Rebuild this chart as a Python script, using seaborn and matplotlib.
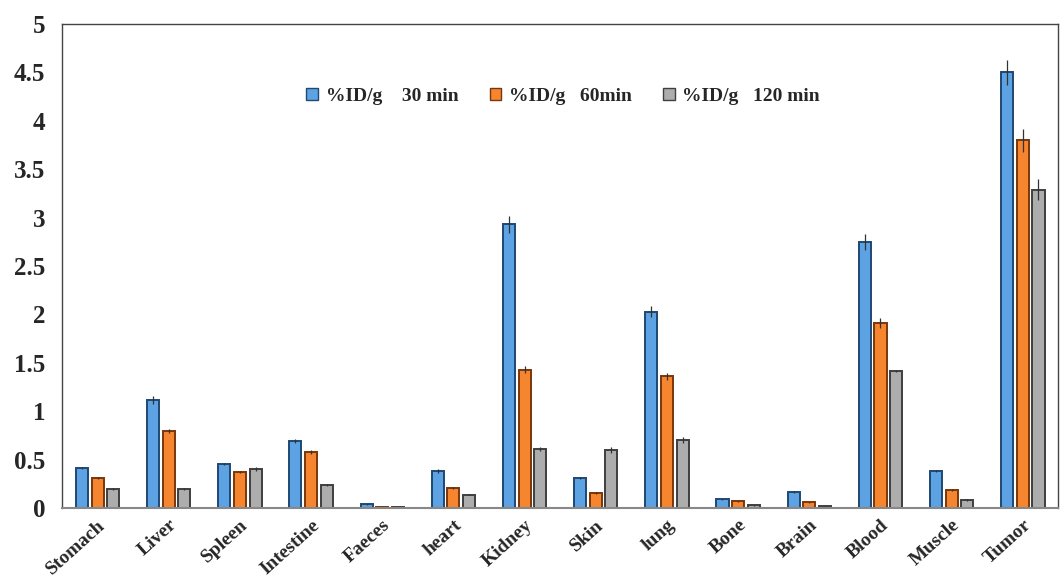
"""Biodistribution bar chart (%ID/g at 30, 60 and 120 min)."""

import matplotlib

matplotlib.use("Agg")
import matplotlib.pyplot as plt
import pandas as pd
import seaborn as sns

ORGANS = [
    "Stomach", "Liver", "Spleen", "Intestine", "Faeces", "heart", "Kidney",
    "Skin", "lung", "Bone", "Brain", "Blood", "Muscle", "Tumor",
]
SERIES = ["%ID/g    30 min", "%ID/g   60min", "%ID/g   120 min"]

VAL_30 = [0.41, 1.12, 0.46, 0.69, 0.04, 0.38, 2.93, 0.31, 2.03, 0.09, 0.17, 2.75, 0.38, 4.50]
VAL_60 = [0.31, 0.80, 0.37, 0.58, 0.015, 0.21, 1.43, 0.16, 1.36, 0.07, 0.06, 1.91, 0.19, 3.80]
VAL_120 = [0.20, 0.20, 0.40, 0.24, 0.01, 0.14, 0.61, 0.60, 0.70, 0.03, 0.02, 1.42, 0.08, 3.29]

ERR_30 = [0.01, 0.04, 0.01, 0.02, 0.005, 0.02, 0.09, 0.01, 0.06, 0.005, 0.01, 0.08, 0.01, 0.13]
ERR_60 = [0.01, 0.02, 0.01, 0.02, 0.005, 0.01, 0.04, 0.01, 0.04, 0.005, 0.005, 0.05, 0.01, 0.12]
ERR_120 = [0.01, 0.01, 0.02, 0.01, 0.005, 0.01, 0.02, 0.03, 0.03, 0.005, 0.005, 0.01, 0.01, 0.11]

FILLS = ["#5DA2E2", "#F5862F", "#ADADAD"]
EDGES = ["#1F4873", "#7A360A", "#3F3F3F"]

sns.set_style("white")
plt.rcParams["font.family"] = ["Liberation Serif", "DejaVu Serif"]
plt.rcParams["font.weight"] = "bold"

df = pd.DataFrame(
    {
        "organ": ORGANS * 3,
        "series": [s for s in SERIES for _ in ORGANS],
        "value": VAL_30 + VAL_60 + VAL_120,
    }
)
errors = [ERR_30, ERR_60, ERR_120]

fig = plt.figure(figsize=(10.6, 5.84), dpi=100)
ax = fig.add_axes([0.0585, 0.130, 0.940, 0.829])

sns.barplot(
    data=df, x="organ", y="value", hue="series", order=ORGANS, hue_order=SERIES,
    palette=FILLS, width=0.66, gap=0.23, errorbar=None, saturation=1,
    linewidth=1.4, ax=ax,
)

for container, edge, err in zip(ax.containers, EDGES, errors):
    xs, ys = [], []
    for bar in container:
        bar.set_edgecolor(edge)
        xs.append(bar.get_x() + bar.get_width() / 2)
        ys.append(bar.get_height())
    ax.errorbar(xs, ys, yerr=err, fmt="none", ecolor="#333333", elinewidth=0.9, capsize=0)

ax.set_xlim(-0.5, len(ORGANS) - 0.5)
ax.set_ylim(0, 5)
ax.set_yticks([0, 0.5, 1, 1.5, 2, 2.5, 3, 3.5, 4, 4.5, 5])
ax.set_yticklabels(["0", "0.5", "1", "1.5", "2", "2.5", "3", "3.5", "4", "4.5", "5"])
ax.set_xlabel("")
ax.set_ylabel("")
ax.tick_params(axis="y", length=0, pad=12, labelsize=18)
ax.tick_params(axis="x", length=0, pad=6, labelsize=14)
plt.setp(ax.get_xticklabels(), rotation=42, ha="right", rotation_mode="anchor", fontweight="bold")
plt.setp(ax.get_yticklabels(), fontweight="bold")

for side in ["left", "top", "right"]:
    ax.spines[side].set_color("#444444")
    ax.spines[side].set_linewidth(1.0)
ax.spines["bottom"].set_color("#888888")
ax.spines["bottom"].set_linewidth(1.5)

leg = ax.legend(
    loc="center", bbox_to_anchor=(0.503, 0.85), ncol=3, frameon=False,
    handlelength=0.6, handleheight=0.6, handletextpad=0.4, columnspacing=1.6,
    prop={"size": 14, "weight": "bold"},
)
for handle, edge in zip(leg.legend_handles, EDGES):
    handle.set_edgecolor(edge)
    handle.set_linewidth(1.0)

fig.savefig("out.png", dpi=100)
